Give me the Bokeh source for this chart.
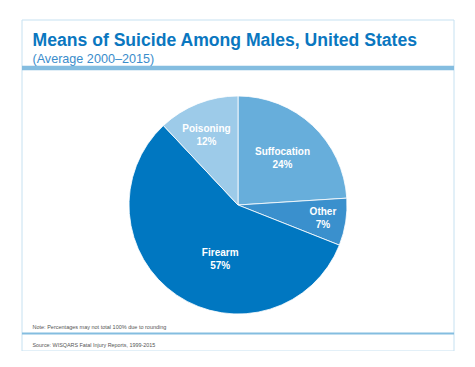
import math
from bokeh.plotting import figure
from bokeh.models import Range1d
from bokeh.core.properties import value
from bokeh.embed import file_html
from bokeh.resources import INLINE

# ---- data ----
categories = ["Suffocation", "Other", "Firearm", "Poisoning"]
percents = [24, 7, 57, 12]
colors = ["#67aedb", "#3a90cd", "#0077c1", "#9dcbe9"]
title = "Means of Suicide Among Males, United States"
subtitle = "(Average 2000\u20132015)"
note = "Note: Percentages may not total 100% due to rounding"
source = "Source: WISQARS Fatal Injury Reports, 1999-2015"

# ---- layout ----
W, H = 459, 351
def px(x):
    return x
def py(y):
    return H - y

p = figure(width=W, height=H, output_backend="svg", toolbar_location=None,
           x_range=Range1d(0, W), y_range=Range1d(0, H), min_border=0)
p.axis.visible = False
p.grid.visible = False
p.outline_line_color = None
p.background_fill_color = "white"
p.border_fill_color = "white"

# frame
p.quad(left=[px(21.5)], right=[px(453.5)], top=[py(19.5)], bottom=[py(350.5)],
       fill_color=None, line_color="#c6e1f1", line_width=1)
p.quad(left=[px(21.5)], right=[px(453.5)], top=[py(65.2)], bottom=[py(69.8)],
       fill_color="#84bde0", line_color=None)
p.quad(left=[px(21.5)], right=[px(453.5)], top=[py(332)], bottom=[py(334)],
       fill_color="#84bde0", line_color=None)

font = value("Liberation Sans")
p.text(x=[px(32)], y=[py(39.5)], text=[title], text_font=font, text_font_size="17.6px",
       text_font_style="bold", text_color="#0a77c0", text_baseline="alphabetic")
p.text(x=[px(32)], y=[py(58.5)], text=[subtitle], text_font=font, text_font_size="12.6px",
       text_color="#3a8ccb", text_baseline="alphabetic")
p.text(x=[px(32)], y=[py(326.5)], text=[note], text_font=font, text_font_size="5.5px",
       text_color="#555555", text_baseline="alphabetic")
p.text(x=[px(32)], y=[py(344.5)], text=[source], text_font=font, text_font_size="5.4px",
       text_color="#555555", text_baseline="alphabetic")

# pie
cx, cy, r = px(237.5), py(204.5), 109
total = sum(percents)
starts, ends, mids = [], [], []
cum = 0.0
for v in percents:
    a0 = math.pi / 2 - 2 * math.pi * cum / total
    cum += v
    a1 = math.pi / 2 - 2 * math.pi * cum / total
    starts.append(a0)
    ends.append(a1)
    mids.append((a0 + a1) / 2)

p.wedge(x=cx, y=cy, radius=r, start_angle=ends, end_angle=starts,
        fill_color=colors, line_color="white", line_width=0.8)

# label placement (distance from centre, angle shift in degrees)
label_dist = [65, 86, 57, 77]
label_shift = [0, 0, 16, 2.6]
lx, ly = [], []
for m, d, s in zip(mids, label_dist, label_shift):
    a = m + math.radians(s)
    lx.append(cx + d * math.cos(a))
    ly.append(cy + d * math.sin(a))
p.text(x=lx, y=[v + 6.5 for v in ly], text=categories, text_font=font,
       text_font_size="10px", text_font_style="bold", text_color="white",
       text_align="center", text_baseline="middle")
p.text(x=lx, y=[v - 6.5 for v in ly], text=[f"{v}%" for v in percents], text_font=font,
       text_font_size="10px", text_font_style="bold", text_color="white",
       text_align="center", text_baseline="middle")

open("out.html", "w").write(file_html(p, INLINE))
